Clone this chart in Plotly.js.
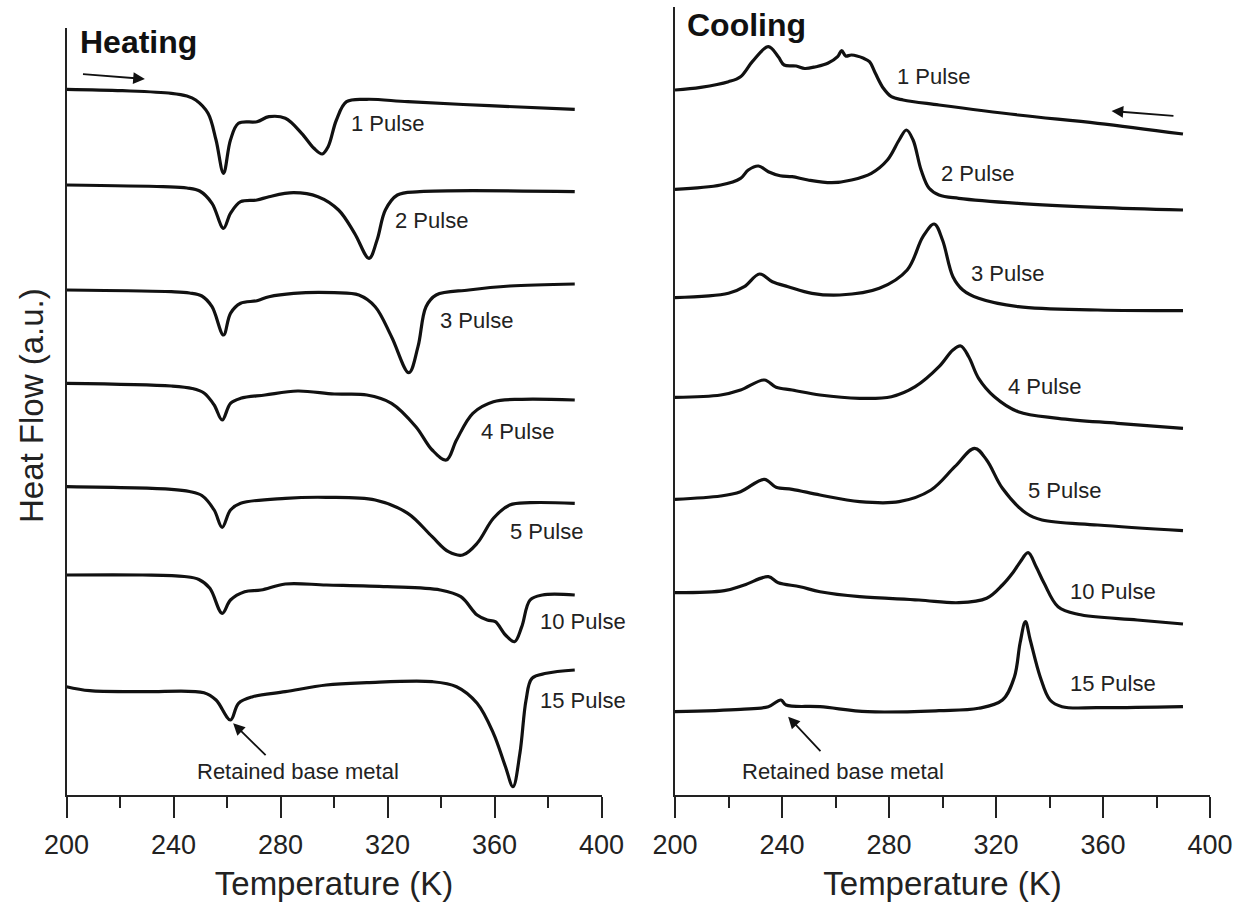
<!DOCTYPE html>
<html>
<head>
<meta charset="utf-8">
<script src="https://cdn.plot.ly/plotly-3.0.1.min.js"></script>
<style>html,body{margin:0;padding:0;background:#fff;}#chart{width:1244px;height:907px;}</style>
</head>
<body>
<div id="chart"></div>
<script>
// ---- Heating curves (temperature K, heat flow a.u.) ----
const heat1T  = [200, 220.9, 239.2, 245, 248.3, 252.9, 255.9, 258.7, 261.3, 264.3, 271.2, 275.7, 281.8, 287.9, 292.5, 295.6, 297.8, 300.9, 304.7, 312.3, 327.6, 358, 390];
const heat1HF = [705.7, 704.3, 701.7, 699, 695, 681.7, 655, 621.7, 655, 671.7, 673.3, 678.3, 676.7, 661.7, 646.7, 641, 648.3, 675, 693.3, 695.7, 693.3, 689.3, 685.7];
const heat2T  = [200, 236.1, 245, 249.8, 254.4, 258.7, 261.3, 265.1, 271.2, 275.7, 284.9, 294, 301.7, 307.7, 313.1, 316.1, 319.2, 323.7, 332.1, 390];
const heat2HF = [610, 608.3, 607, 604, 591.7, 566.7, 581.7, 593.3, 595, 598.3, 602.3, 598.3, 585, 561.7, 536.7, 555, 585, 600, 603.3, 603.3];
const heat3T  = [200, 239.2, 246, 250.6, 254.4, 258.7, 261.3, 265.1, 271.2, 275.7, 284.9, 300.1, 309.3, 315.4, 321.5, 328, 331.4, 334.4, 338.2, 350.4, 365.7, 390];
const heat3HF = [505, 503.3, 502, 499, 488.3, 460, 481.7, 491.7, 494.3, 498.3, 501.7, 502.3, 500, 488.3, 458.3, 422.3, 448.3, 488.3, 500, 505, 509, 511];
const heat4T  = [200, 239.2, 247, 251.4, 255.2, 258.2, 261.3, 265.1, 274.2, 286.4, 300.1, 312.3, 321.5, 330.6, 336.7, 342, 345.8, 351.9, 359.6, 370.2, 390];
const heat4HF = [411.7, 409, 406.5, 402, 390, 375, 391.7, 396.7, 400, 404, 401, 400, 391.7, 368.3, 345, 335, 355, 381.7, 393.3, 395.7, 395];
const heat5T  = [200, 239.2, 246, 250.6, 255.2, 258.2, 261.3, 265.1, 281.8, 297.1, 315.4, 327.6, 336.7, 342.8, 348.1, 353.5, 359.6, 365.7, 373.3, 390];
const heat5HF = [308.3, 305.7, 303.5, 299.5, 285, 267.7, 285, 291.7, 296.7, 297.7, 295, 281.7, 258.3, 243.3, 240, 251.7, 276.7, 290, 292.3, 291.7];
const heat10T  = [200, 228.5, 244, 249.5, 253.6, 258.2, 261.3, 266.6, 272.7, 281.8, 297.1, 319.9, 339.7, 347.4, 353.5, 357.3, 360.3, 364.1, 367.5, 370.2, 373.3, 377.9, 390];
const heat10HF = [220, 220, 218.5, 215.5, 206.7, 181.7, 195, 203.3, 205, 211, 210, 208.3, 205, 198.3, 180, 175, 173.3, 160, 153.3, 168.3, 195, 200, 200];
const heat15T  = [200, 208.7, 228.5, 251.4, 255.9, 261.3, 264.3, 269.6, 281.8, 297.1, 312.3, 336.7, 345.8, 353.5, 359.6, 364.1, 366.9, 369.5, 371.8, 374, 379.4, 390];
const heat15HF = [108.3, 104.3, 103.3, 102.3, 95, 75, 91.7, 98.3, 103.3, 110, 112.3, 113.3, 108.3, 91.7, 61.7, 28.3, 8.3, 41.7, 95, 116.7, 121.7, 125];

// ---- Cooling curves ----
const cool1T  = [200, 209.6, 220, 224.5, 228.9, 234.9, 238.6, 240.8, 245.3, 248.5, 252.7, 257.1, 260.8, 262.3, 263.8, 266, 270.5, 272.7, 274.9, 277.9, 280.9, 285.3, 298.7, 328.3, 358, 389.9];
const cool1HF = [705, 707.7, 713.3, 718.3, 733.3, 748.3, 738.3, 730, 729, 726.5, 728.3, 731.7, 738.3, 744.3, 739, 740, 736.7, 733.3, 721.7, 706.7, 698.3, 695, 690, 680, 671.7, 661];
const cool2T  = [200, 217.1, 224.5, 227.4, 231.2, 234.9, 239.3, 243.8, 249.7, 258.6, 266, 273.4, 279.4, 283.8, 286.5, 289, 292, 295, 298.7, 306.1, 328.3, 358, 389.9];
const cool2HF = [605.7, 610, 616.7, 625, 629, 623.3, 619.3, 618.3, 615, 612.3, 615, 621.7, 635, 655, 665, 655, 625, 606.7, 600, 596.7, 591.7, 587.7, 585];
const cool3T  = [200, 220, 225.9, 231.6, 236.4, 242.3, 251.2, 261.6, 276.4, 286.8, 292.7, 296.9, 300, 303.9, 307.6, 313.5, 328.3, 358, 389.9];
const cool3HF = [497.3, 501.7, 508.3, 521, 513.3, 508.3, 501.7, 500, 506.7, 525, 558.3, 571, 555, 518.3, 505, 496.7, 488.3, 485, 484.3];
const cool4T  = [200, 217.1, 224.5, 233.4, 237.8, 243.8, 254.2, 269, 280.9, 289.8, 298.7, 303.9, 306.8, 309.8, 313.5, 319.4, 328.3, 343.2, 365.4, 389.9];
const cool4HF = [397.7, 400, 405, 415, 407.7, 405, 400, 396.7, 398.3, 408.3, 428.3, 445, 449, 438.3, 416.7, 398.3, 383.3, 376.7, 371.7, 366.7];
const cool5T  = [200, 217.1, 224.5, 233.4, 237.8, 243.8, 254.2, 269, 283.8, 295.7, 304.6, 312, 316.5, 322.4, 331.3, 337.2, 358, 389.9];
const cool5HF = [295.7, 299, 303.3, 315.7, 307.7, 305.7, 300, 293.3, 293.3, 305, 328.3, 346.7, 335, 306.7, 281.7, 275, 270, 264.3];
const cool10T  = [200, 218.5, 225.9, 234.9, 238.6, 246.7, 254.2, 269, 291.2, 306.1, 316.5, 322.4, 326.5, 329.1, 332, 335, 338, 343.2, 350.6, 372.8, 389.9];
const cool10HF = [202.3, 204.3, 210, 218.3, 212.3, 208.3, 203.3, 198.3, 195, 192.3, 196.7, 210, 223, 233.3, 242.3, 228.3, 211.7, 188.3, 180.7, 175, 171];
const cool15T  = [200, 224.5, 234.9, 239.6, 241.5, 254.2, 272, 298.7, 313.5, 322.4, 326.9, 329, 331, 332.8, 336.5, 340.2, 344.7, 358, 389.9];
const cool15HF = [83.3, 85.7, 88.3, 95, 90, 88.3, 83.3, 84.3, 86.7, 95, 118.3, 152, 173.3, 155, 118.3, 95, 88.3, 87.3, 88.3];

// ---- labels ----
const pulseLabels = ['1 Pulse', '2 Pulse', '3 Pulse', '4 Pulse', '5 Pulse', '10 Pulse', '15 Pulse'];
const heatLabelT  = [305.5, 322.2, 339, 354.2, 364.9, 376.3, 376.3];
const heatLabelHF = [672, 575, 475, 363.3, 263.3, 173.3, 95];
const coolLabelT  = [282.3, 298.7, 309.8, 323.9, 331.3, 346.9, 346.9];
const coolLabelHF = [718.3, 621.7, 521.7, 408.3, 305, 203.3, 111.7];
const xTicks = [200, 240, 280, 320, 360, 400];

const FONT = 'Arial, "Liberation Sans", Helvetica, sans-serif';
const heatSeries = [[heat1T, heat1HF], [heat2T, heat2HF], [heat3T, heat3HF], [heat4T, heat4HF], [heat5T, heat5HF], [heat10T, heat10HF], [heat15T, heat15HF]];
const coolSeries = [[cool1T, cool1HF], [cool2T, cool2HF], [cool3T, cool3HF], [cool4T, cool4HF], [cool5T, cool5HF], [cool10T, cool10HF], [cool15T, cool15HF]];

const lineStyle = {color: '#111', width: 3.2, shape: 'spline', smoothing: 1.0};
const traces = [];
heatSeries.forEach((s, i) => traces.push({x: s[0], y: s[1], type: 'scatter', mode: 'lines', line: lineStyle, name: 'Heating ' + pulseLabels[i], xaxis: 'x', yaxis: 'y', hoverinfo: 'skip'}));
coolSeries.forEach((s, i) => traces.push({x: s[0], y: s[1], type: 'scatter', mode: 'lines', line: lineStyle, name: 'Cooling ' + pulseLabels[i], xaxis: 'x2', yaxis: 'y2', hoverinfo: 'skip'}));

const W = 1244, H = 907, B = 112, PH = H - B;
function xAxis(domain, anchor) {
  return {
    domain: domain, anchor: anchor, range: [200, 400], tickvals: xTicks,
    showline: true, linecolor: '#222', linewidth: 2, mirror: false,
    ticks: 'outside', ticklen: 21, tickwidth: 2, tickcolor: '#222',
    minor: {dtick: 20, tick0: 200, ticks: 'outside', ticklen: 11, tickwidth: 2, tickcolor: '#222'},
    showgrid: false, zeroline: false, ticklabelstandoff: 4,
    tickfont: {family: FONT, size: 27, color: '#222'},
    title: {text: 'Temperature (K)', font: {family: FONT, size: 33, color: '#222'}, standoff: 12}
  };
}
function yAxis(domain, range, anchor) {
  return {domain: domain, range: range, anchor: anchor, showline: true, linecolor: '#222', linewidth: 2,
          ticks: '', showticklabels: false, showgrid: false, zeroline: false};
}

const ann = [];
pulseLabels.forEach((t, i) => {
  ann.push({text: t, x: heatLabelT[i], y: heatLabelHF[i], xref: 'x', yref: 'y', xanchor: 'left', yanchor: 'middle', showarrow: false, font: {family: FONT, size: 22, color: '#222'}});
  ann.push({text: t, x: coolLabelT[i], y: coolLabelHF[i], xref: 'x2', yref: 'y2', xanchor: 'left', yanchor: 'middle', showarrow: false, font: {family: FONT, size: 22, color: '#222'}});
});
ann.push({text: 'Retained base metal', x: 286.4, y: 23.3, xref: 'x', yref: 'y', xanchor: 'center', yanchor: 'middle', showarrow: false, font: {family: FONT, size: 22, color: '#222'}});
ann.push({text: 'Retained base metal', x: 262.7, y: 23.3, xref: 'x2', yref: 'y2', xanchor: 'center', yanchor: 'middle', showarrow: false, font: {family: FONT, size: 22, color: '#222'}});
// arrows
const arrowBase = {text: '', showarrow: true, arrowhead: 2, arrowsize: 1.3, arrowwidth: 1.8, arrowcolor: '#111', standoff: 0, startstandoff: 0};
ann.push(Object.assign({}, arrowBase, {x: 262.3, y: 71.7, ax: 275, ay: 38.3, xref: 'x', yref: 'y', axref: 'x', ayref: 'y'}));
ann.push(Object.assign({}, arrowBase, {x: 242.3, y: 78.3, ax: 254.9, ay: 42.3, xref: 'x2', yref: 'y2', axref: 'x2', ayref: 'y2'}));
ann.push(Object.assign({}, arrowBase, {x: 229.3, y: 716, ax: 205.6, ay: 721, xref: 'x', yref: 'y', axref: 'x', ayref: 'y'}));
ann.push(Object.assign({}, arrowBase, {x: 363.2, y: 684, ax: 386.9, ay: 679, xref: 'x2', yref: 'y2', axref: 'x2', ayref: 'y2'}));
// panel headings
ann.push({text: '<b>Heating</b>', x: 77.5 / W, y: (PH - 42) / PH, xref: 'paper', yref: 'paper', xanchor: 'left', yanchor: 'middle', showarrow: false, font: {family: FONT, size: 32, color: '#111'}});
ann.push({text: '<b>Cooling</b>', x: 685 / W, y: (PH - 25.5) / PH, xref: 'paper', yref: 'paper', xanchor: 'left', yanchor: 'middle', showarrow: false, font: {family: FONT, size: 32, color: '#111'}});
// y title
ann.push({text: 'Heat Flow (a.u.)', x: 31 / W, y: (PH - 406) / PH, xref: 'paper', yref: 'paper', xanchor: 'center', yanchor: 'middle', textangle: -90, showarrow: false, font: {family: FONT, size: 33, color: '#222'}});

const layout = {
  width: W, height: H, showlegend: false,
  margin: {l: 0, r: 0, t: 0, b: B},
  paper_bgcolor: '#fff', plot_bgcolor: 'rgba(0,0,0,0)',
  xaxis: xAxis([66.5 / W, 601.5 / W], 'y'),
  yaxis: yAxis([0, (PH - 28) / PH], [0, PH - 28], 'x'),
  xaxis2: xAxis([675 / W, 1210 / W], 'y2'),
  yaxis2: yAxis([0, (PH - 7) / PH], [0, PH - 7], 'x2'),
  annotations: ann
};
Plotly.newPlot('chart', traces, layout, {staticPlot: true, displayModeBar: false});
</script>
</body>
</html>
